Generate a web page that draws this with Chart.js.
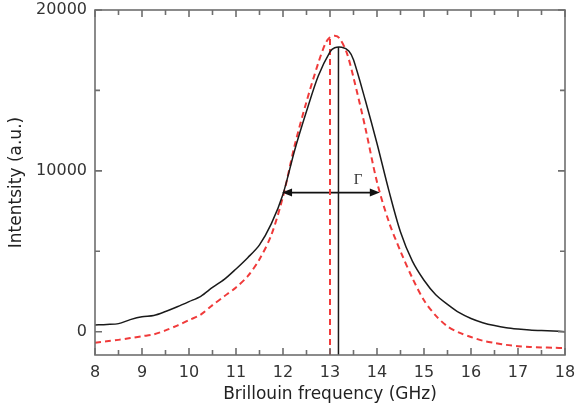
<!DOCTYPE html>
<html>
<head>
<meta charset="utf-8">
<script src="https://cdn.jsdelivr.net/npm/chart.js@4/dist/chart.umd.min.js"></script>
<style>
  html, body { margin: 0; padding: 0; background: #fff; }
  #wrap { width: 575px; height: 411px; }
</style>
</head>
<body>
<div id="wrap"><canvas id="chart" width="575" height="411"></canvas></div>
<script>
// ── Data ──
const freq = [8.0, 8.25, 8.5, 8.75, 9.0, 9.25, 9.5, 9.75, 10.0, 10.25, 10.5, 10.75, 11.0, 11.25, 11.5, 11.75,
  12.0, 12.25, 12.5, 12.75, 13.0, 13.1, 13.25, 13.4, 13.5, 13.75, 14.0, 14.25, 14.5, 14.75, 15.0, 15.25,
  15.5, 15.75, 16.0, 16.25, 16.5, 16.75, 17.0, 17.25, 17.5, 17.75, 18.0];
const measured = [420, 450, 500, 750, 930, 1000, 1250, 1550, 1870, 2200, 2750, 3250, 3900, 4600, 5400, 6700,
  8550, 11300, 13700, 15900, 17400, 17650, 17680, 17450, 16900, 14400, 11700, 8800, 6200, 4400, 3200, 2300,
  1700, 1180, 820, 560, 380, 250, 170, 110, 70, 40, 0];

const fitFreq = [8.0, 8.25, 8.5, 8.75, 9.0, 9.25, 9.5, 9.75, 10.0, 10.25, 10.5, 10.75, 11.0, 11.25, 11.5, 11.75,
  12.0, 12.25, 12.5, 12.75, 12.9, 13.0, 13.1, 13.2, 13.35, 13.5, 13.75, 14.0, 14.25, 14.5, 14.75, 15.0,
  15.25, 15.5, 15.75, 16.0, 16.25, 16.5, 16.75, 17.0, 17.25, 17.5, 17.75, 18.0];
const fitted = [-690, -600, -510, -400, -280, -170, 80, 380, 720, 1060, 1650, 2200, 2750, 3450, 4500, 6000,
  8400, 11600, 14300, 16700, 17900, 18300, 18400, 18250, 17400, 15800, 12700, 9300, 6850, 5000, 3350, 1950,
  1000, 330, -60, -330, -560, -700, -820, -900, -950, -980, -1000, -1020];

const peakMeasured = [13.18, 17700];   // solid vertical line
const peakFitted   = [13.0, 18300];    // dashed vertical line
const widthArrow   = [11.98, 14.06, 8650];  // from, to, level
const gammaLabel   = [13.6, 9450];

const xTicks = [8, 9, 10, 11, 12, 13, 14, 15, 16, 17, 18];
const yTicks = [0, 10000, 20000];
const yMin = -1450, yMax = 20000;

const pts = (xs, ys) => xs.map((x, i) => ({ x, y: ys[i] }));

// ── Frame, inward ticks, arrow heads, Γ ──
const decor = {
  id: "decor",
  afterDatasetsDraw(chart) {
    const { ctx, chartArea: a, scales: { x, y } } = chart;
    ctx.save();

    // arrow heads
    const ay = y.getPixelForValue(widthArrow[2]);
    const ax1 = x.getPixelForValue(widthArrow[0]);
    const ax2 = x.getPixelForValue(widthArrow[1]);
    ctx.fillStyle = "#111";
    ctx.beginPath();
    ctx.moveTo(ax1, ay); ctx.lineTo(ax1 + 10, ay - 4); ctx.lineTo(ax1 + 10, ay + 4); ctx.closePath();
    ctx.moveTo(ax2, ay); ctx.lineTo(ax2 - 10, ay - 4); ctx.lineTo(ax2 - 10, ay + 4); ctx.closePath();
    ctx.fill();

    ctx.font = "15px 'Liberation Serif', serif";
    ctx.fillStyle = "#333";
    ctx.textAlign = "center";
    ctx.textBaseline = "middle";
    ctx.fillText("Γ", x.getPixelForValue(gammaLabel[0]), y.getPixelForValue(gammaLabel[1]));

    // box
    ctx.strokeStyle = "#6e6e6e";
    ctx.lineWidth = 1.6;
    ctx.strokeRect(a.left, a.top, a.right - a.left, a.bottom - a.top);

    // ticks pointing into the plot, on all four sides
    ctx.beginPath();
    for (let v = 8; v <= 18; v += 0.5) {
      const px = x.getPixelForValue(v);
      const len = v % 1 === 0 ? 7 : 5;
      ctx.moveTo(px, a.bottom); ctx.lineTo(px, a.bottom - len);
      ctx.moveTo(px, a.top); ctx.lineTo(px, a.top + len);
    }
    for (let v = 0; v <= 20000; v += 5000) {
      const py = y.getPixelForValue(v);
      const len = v % 10000 === 0 ? 7 : 5;
      ctx.moveTo(a.left, py); ctx.lineTo(a.left + len, py);
      ctx.moveTo(a.right, py); ctx.lineTo(a.right - len, py);
    }
    ctx.stroke();
    ctx.restore();
  }
};

const tickFont = { family: "'DejaVu Sans', sans-serif", size: 16 };
const titleFont = { family: "'DejaVu Sans', sans-serif", size: 17 };

new Chart(document.getElementById("chart"), {
  type: "scatter",
  data: {
    datasets: [
      {
        data: pts(freq, measured),
        showLine: true, borderColor: "#1a1a1a", borderWidth: 1.5,
        pointRadius: 0, tension: 0.3
      },
      {
        data: pts(fitFreq, fitted),
        showLine: true, borderColor: "#f03a3a", borderWidth: 2, borderDash: [6, 4],
        pointRadius: 0, tension: 0.3
      },
      {
        data: [{ x: peakMeasured[0], y: yMin }, { x: peakMeasured[0], y: peakMeasured[1] }],
        showLine: true, borderColor: "#1a1a1a", borderWidth: 1.5, pointRadius: 0
      },
      {
        data: [{ x: peakFitted[0], y: yMin }, { x: peakFitted[0], y: peakFitted[1] }],
        showLine: true, borderColor: "#f03a3a", borderWidth: 2, borderDash: [6, 4], pointRadius: 0
      },
      {
        data: [{ x: widthArrow[0] + 6 / 47, y: widthArrow[2] }, { x: widthArrow[1] - 6 / 47, y: widthArrow[2] }],
        showLine: true, borderColor: "#111", borderWidth: 1.8, pointRadius: 0
      }
    ]
  },
  options: {
    responsive: false,
    animation: false,
    layout: { padding: { top: 10, right: 10, left: 0, bottom: 0 } },
    plugins: { legend: { display: false }, tooltip: { enabled: false } },
    scales: {
      x: {
        type: "linear", min: 8, max: 18,
        grid: { display: false, drawTicks: false },
        border: { display: false },
        afterBuildTicks: s => { s.ticks = xTicks.map(v => ({ value: v })); },
        // fixed height, and no extra room reserved for the end labels
        afterFit: s => { s.height = 56; s.paddingLeft = 0; s.paddingRight = 0; },
        ticks: { font: tickFont, color: "#333", padding: 8, maxRotation: 0 },
        title: { display: true, text: "Brillouin frequency (GHz)", font: titleFont, color: "#222", padding: { top: 0, bottom: 6 } }
      },
      y: {
        type: "linear", min: yMin, max: yMax,
        grid: { display: false, drawTicks: false },
        border: { display: false },
        afterBuildTicks: s => { s.ticks = yTicks.map(v => ({ value: v })); },
        afterFit: s => { s.width = 95; s.paddingTop = 0; s.paddingBottom = 0; },
        ticks: { font: tickFont, color: "#333", padding: 8, callback: v => String(v) },
        title: { display: true, text: "Intentsity (a.u.)", font: titleFont, color: "#222", padding: { top: 6, bottom: 0 } }
      }
    }
  },
  plugins: [decor]
});
</script>
</body>
</html>
